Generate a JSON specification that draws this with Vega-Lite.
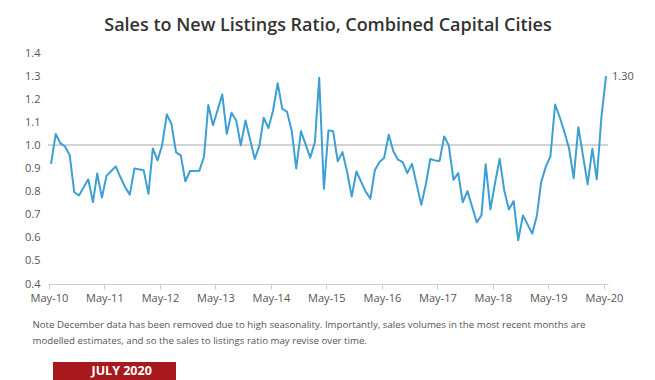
{
  "$schema": "https://vega.github.io/schema/vega-lite/v6.json",
  "width": 560,
  "height": 231,
  "autosize": {"type": "none"},
  "padding": {"left": 48, "top": 53, "right": 47, "bottom": 96},
  "background": "white",
  "config": {
    "font": "Open Sans",
    "view": {"stroke": null}
  },
  "title": {
    "text": "Sales to New Listings Ratio, Combined Capital Cities",
    "fontSize": 18,
    "fontWeight": 600,
    "color": "#333333",
    "anchor": "middle",
    "offset": 12
  },
  "data": {
    "values": [
      {"date": "2010-05-15", "ratio": 0.92},
      {"date": "2010-06-15", "ratio": 1.05},
      {"date": "2010-07-15", "ratio": 1.01},
      {"date": "2010-08-15", "ratio": 0.995},
      {"date": "2010-09-15", "ratio": 0.957},
      {"date": "2010-10-15", "ratio": 0.797},
      {"date": "2010-11-15", "ratio": 0.783},
      {"date": "2011-01-15", "ratio": 0.853},
      {"date": "2011-02-15", "ratio": 0.754},
      {"date": "2011-03-15", "ratio": 0.878},
      {"date": "2011-04-15", "ratio": 0.774},
      {"date": "2011-05-15", "ratio": 0.868},
      {"date": "2011-06-15", "ratio": 0.889},
      {"date": "2011-07-15", "ratio": 0.909},
      {"date": "2011-08-15", "ratio": 0.862},
      {"date": "2011-09-15", "ratio": 0.819},
      {"date": "2011-10-15", "ratio": 0.787},
      {"date": "2011-11-15", "ratio": 0.9},
      {"date": "2012-01-15", "ratio": 0.892},
      {"date": "2012-02-15", "ratio": 0.79},
      {"date": "2012-03-15", "ratio": 0.987},
      {"date": "2012-04-15", "ratio": 0.935},
      {"date": "2012-05-15", "ratio": 1.0},
      {"date": "2012-06-15", "ratio": 1.134},
      {"date": "2012-07-15", "ratio": 1.094},
      {"date": "2012-08-15", "ratio": 0.97},
      {"date": "2012-09-15", "ratio": 0.957},
      {"date": "2012-10-15", "ratio": 0.845},
      {"date": "2012-11-15", "ratio": 0.889},
      {"date": "2013-01-15", "ratio": 0.89},
      {"date": "2013-02-15", "ratio": 0.951},
      {"date": "2013-03-15", "ratio": 1.175},
      {"date": "2013-04-15", "ratio": 1.087},
      {"date": "2013-05-15", "ratio": 1.152},
      {"date": "2013-06-15", "ratio": 1.221},
      {"date": "2013-07-15", "ratio": 1.05},
      {"date": "2013-08-15", "ratio": 1.141},
      {"date": "2013-09-15", "ratio": 1.108},
      {"date": "2013-10-15", "ratio": 1.0},
      {"date": "2013-11-15", "ratio": 1.108},
      {"date": "2014-01-15", "ratio": 0.941},
      {"date": "2014-02-15", "ratio": 1.0},
      {"date": "2014-03-15", "ratio": 1.12},
      {"date": "2014-04-15", "ratio": 1.075},
      {"date": "2014-05-15", "ratio": 1.15},
      {"date": "2014-06-15", "ratio": 1.269},
      {"date": "2014-07-15", "ratio": 1.158},
      {"date": "2014-08-15", "ratio": 1.146},
      {"date": "2014-09-15", "ratio": 1.065},
      {"date": "2014-10-15", "ratio": 0.9},
      {"date": "2014-11-15", "ratio": 1.062},
      {"date": "2015-01-15", "ratio": 0.947},
      {"date": "2015-02-15", "ratio": 1.015},
      {"date": "2015-03-15", "ratio": 1.293},
      {"date": "2015-04-15", "ratio": 0.812},
      {"date": "2015-05-15", "ratio": 1.065},
      {"date": "2015-06-15", "ratio": 1.061},
      {"date": "2015-07-15", "ratio": 0.931},
      {"date": "2015-08-15", "ratio": 0.971},
      {"date": "2015-09-15", "ratio": 0.885},
      {"date": "2015-10-15", "ratio": 0.779},
      {"date": "2015-11-15", "ratio": 0.887},
      {"date": "2016-01-15", "ratio": 0.8},
      {"date": "2016-02-15", "ratio": 0.769},
      {"date": "2016-03-15", "ratio": 0.892},
      {"date": "2016-04-15", "ratio": 0.928},
      {"date": "2016-05-15", "ratio": 0.945},
      {"date": "2016-06-15", "ratio": 1.046},
      {"date": "2016-07-15", "ratio": 0.975},
      {"date": "2016-08-15", "ratio": 0.938},
      {"date": "2016-09-15", "ratio": 0.928},
      {"date": "2016-10-15", "ratio": 0.88},
      {"date": "2016-11-15", "ratio": 0.92},
      {"date": "2017-01-15", "ratio": 0.743},
      {"date": "2017-02-15", "ratio": 0.834},
      {"date": "2017-03-15", "ratio": 0.941},
      {"date": "2017-04-15", "ratio": 0.935},
      {"date": "2017-05-15", "ratio": 0.932},
      {"date": "2017-06-15", "ratio": 1.039},
      {"date": "2017-07-15", "ratio": 1.0},
      {"date": "2017-08-15", "ratio": 0.851},
      {"date": "2017-09-15", "ratio": 0.88},
      {"date": "2017-10-15", "ratio": 0.754},
      {"date": "2017-11-15", "ratio": 0.802},
      {"date": "2018-01-15", "ratio": 0.667},
      {"date": "2018-02-15", "ratio": 0.697},
      {"date": "2018-03-15", "ratio": 0.918},
      {"date": "2018-04-15", "ratio": 0.723},
      {"date": "2018-05-15", "ratio": 0.835},
      {"date": "2018-06-15", "ratio": 0.942},
      {"date": "2018-07-15", "ratio": 0.805},
      {"date": "2018-08-15", "ratio": 0.723},
      {"date": "2018-09-15", "ratio": 0.759},
      {"date": "2018-10-15", "ratio": 0.589},
      {"date": "2018-11-15", "ratio": 0.697},
      {"date": "2019-01-15", "ratio": 0.618},
      {"date": "2019-02-15", "ratio": 0.697},
      {"date": "2019-03-15", "ratio": 0.841},
      {"date": "2019-04-15", "ratio": 0.909},
      {"date": "2019-05-15", "ratio": 0.952},
      {"date": "2019-06-15", "ratio": 1.177},
      {"date": "2019-07-15", "ratio": 1.123},
      {"date": "2019-08-15", "ratio": 1.058},
      {"date": "2019-09-15", "ratio": 0.986},
      {"date": "2019-10-15", "ratio": 0.858},
      {"date": "2019-11-15", "ratio": 1.079},
      {"date": "2020-01-15", "ratio": 0.831},
      {"date": "2020-02-15", "ratio": 0.986},
      {"date": "2020-03-15", "ratio": 0.853},
      {"date": "2020-04-15", "ratio": 1.125},
      {"date": "2020-05-15", "ratio": 1.3}
    ]
  },
  "encoding": {
    "x": {
      "field": "date",
      "type": "temporal",
      "scale": {
        "type": "utc",
        "domain": [
          {"year": 2010, "month": 4, "date": 25, "utc": true},
          {"year": 2020, "month": 5, "date": 28, "utc": true}
        ]
      },
      "axis": {
        "values": [
          {"year": 2010, "month": 5, "date": 1, "utc": true},
          {"year": 2011, "month": 5, "date": 1, "utc": true},
          {"year": 2012, "month": 5, "date": 1, "utc": true},
          {"year": 2013, "month": 5, "date": 1, "utc": true},
          {"year": 2014, "month": 5, "date": 1, "utc": true},
          {"year": 2015, "month": 5, "date": 1, "utc": true},
          {"year": 2016, "month": 5, "date": 1, "utc": true},
          {"year": 2017, "month": 5, "date": 1, "utc": true},
          {"year": 2018, "month": 5, "date": 1, "utc": true},
          {"year": 2019, "month": 5, "date": 1, "utc": true},
          {"year": 2020, "month": 5, "date": 1, "utc": true}
        ],
        "labelExpr": "utcFormat(datum.value, '%b-%y')",
        "grid": false,
        "domainColor": "#cccccc",
        "tickColor": "#cccccc",
        "tickSize": 5,
        "labelColor": "#555555",
        "labelFontSize": 11,
        "labelPadding": 3,
        "labelFlush": false,
        "labelOverlap": false,
        "title": [
          "Note December data has been removed due to high seasonality. Importantly, sales volumes in the most recent months are",
          "modelled estimates, and so the sales to listings ratio may revise over time."
        ],
        "titleAnchor": "start",
        "titleAlign": "left",
        "titleBaseline": "top",
        "titleX": -16,
        "titleY": 35,
        "titleFontSize": 9.7,
        "titleFontWeight": "normal",
        "titleColor": "#555555",
        "titleLineHeight": 16
      }
    },
    "y": {
      "field": "ratio",
      "type": "quantitative",
      "scale": {"domain": [0.4, 1.4], "nice": false, "zero": false},
      "axis": {
        "values": [0.4, 0.5, 0.6, 0.7, 0.8, 0.9, 1.0, 1.1, 1.2, 1.3, 1.4],
        "format": ".1f",
        "grid": false,
        "domain": false,
        "ticks": false,
        "labelColor": "#555555",
        "labelFontSize": 11,
        "labelPadding": 8,
        "title": null
      }
    }
  },
  "layer": [
    {
      "mark": {"type": "rule", "color": "#d2d2d2", "strokeWidth": 1.2},
      "encoding": {"y": {"datum": 1.0}, "x": null}
    },
    {
      "mark": {"type": "line", "strokeWidth": 2, "strokeJoin": "round"},
      "encoding": {
        "color": {
          "datum": "JULY 2020",
          "scale": {"range": ["#3d9fd4"]},
          "legend": {
            "orient": "none",
            "legendX": 5,
            "legendY": 309,
            "title": "\u00a0",
            "titleOrient": "right",
            "titlePadding": 21,
            "titleFontSize": 12,
            "fillColor": "#a8191e",
            "padding": 3,
            "symbolSize": 0,
            "symbolStrokeWidth": 0,
            "symbolOpacity": 0,
            "labelOffset": 23,
            "labelColor": "white",
            "labelFontSize": 12.5,
            "labelFontWeight": "bold",
            "labelFont": "Open Sans"
          }
        }
      }
    },
    {
      "transform": [
        {"window": [{"op": "row_number", "as": "rn"}], "sort": [{"field": "date", "order": "descending"}]},
        {"filter": "datum.rn === 1"}
      ],
      "mark": {"type": "text", "align": "left", "baseline": "middle", "dx": 6, "dy": 1, "fontSize": 11, "color": "#555555"},
      "encoding": {
        "text": {"field": "ratio", "type": "quantitative", "format": ".2f"}
      }
    }
  ]
}
